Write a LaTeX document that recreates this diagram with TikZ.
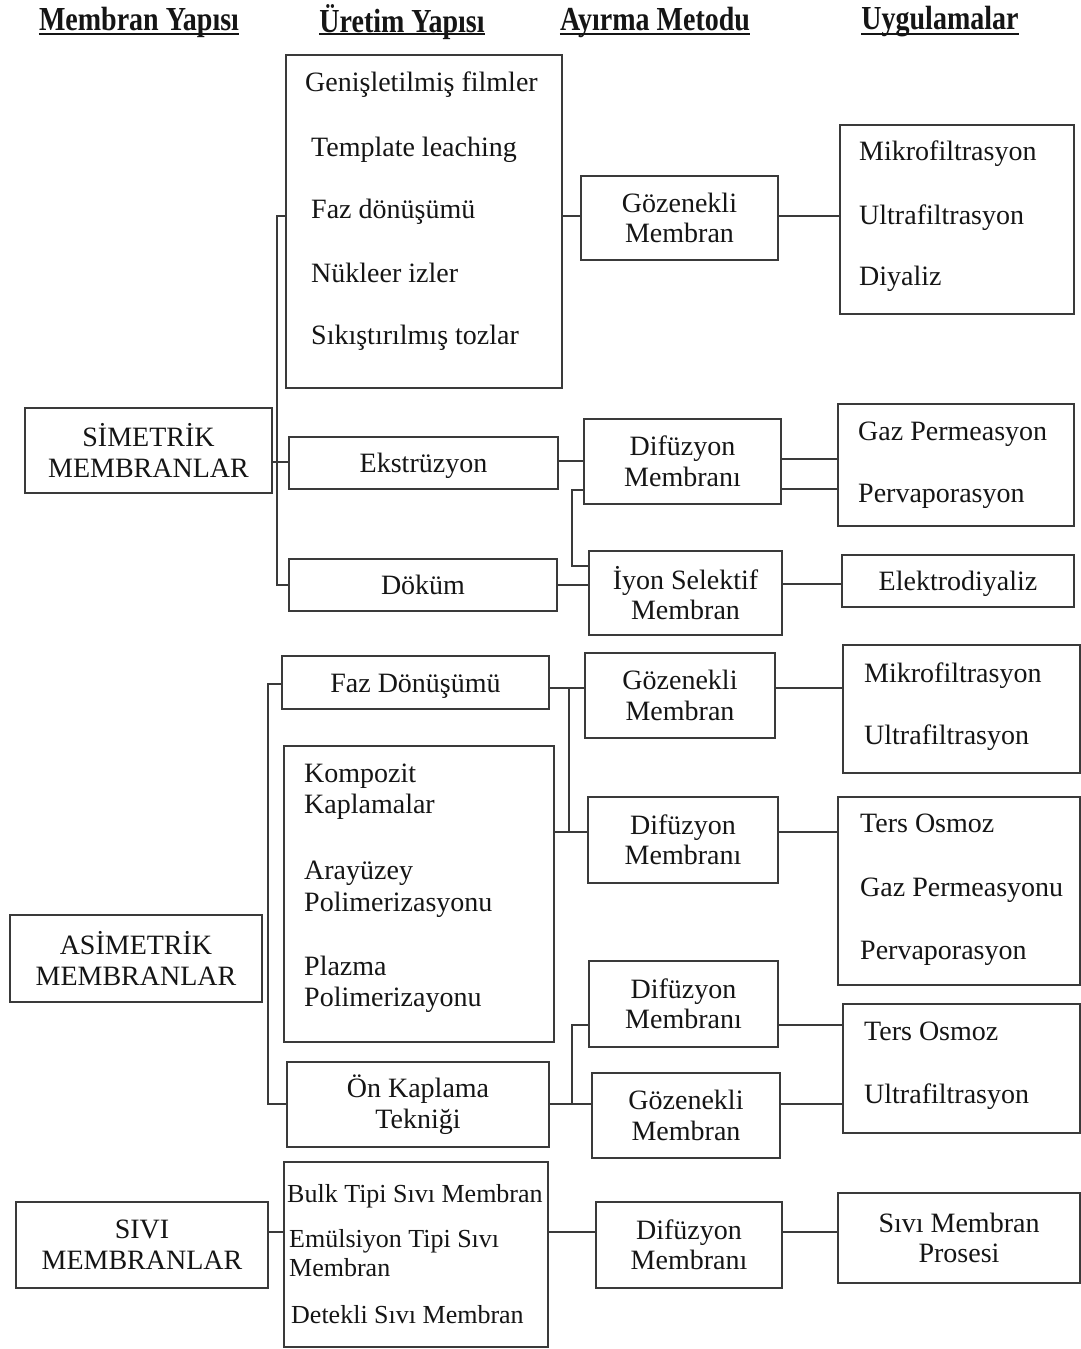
\documentclass[tikz,border=0pt]{standalone}
\usepackage{fontspec}
\setmainfont{Liberation Serif}
\newcommand\fsz{\fontsize{28}{30.5}\selectfont}
\newcommand\fsm{\fontsize{26}{28}\selectfont}
\definecolor{linec}{HTML}{3A3A3A}
\definecolor{txtc}{HTML}{151515}
\begin{document}
\begin{tikzpicture}[x=1pt,y=-1pt,
  box/.style={draw=linec, line width=1.5pt, inner sep=0pt, align=center, font=\fsz, text=txtc},
  single/.style={text height=22pt, text depth=3pt},
  ln/.style={draw=linec, line width=1.5pt},
  ul/.style={draw=txtc, line width=2.6pt},
  item/.style={font=\fsz, text=txtc, inner sep=0pt, text height=19pt, text depth=6pt, anchor=west, yshift=-3pt},
  itemsm/.style={font=\fsm, text=txtc, inner sep=0pt, text height=18pt, text depth=6pt, anchor=west, yshift=-2pt},
  head/.style={font=\fsz\bfseries, text=txtc, inner sep=0pt}]
\useasboundingbox (0,0) rectangle (1081,1349);
\fill[white] (0,0) rectangle (1081,1349);

% headings
\node[head] (h1) at (139,22) {\scalebox{1}[1.2]{Membran Yapısı}};
\node[head] (h2) at (402,22) {\scalebox{1}[1.2]{Üretim Yapısı}};
\node[head] (h3) at (655,22) {\scalebox{1}[1.2]{Ayırma Metodu}};
\node[head] (h4) at (940,22) {\scalebox{1}[1.2]{Uygulamalar}};
\foreach \h in {h1,h2,h3,h4}{\draw[ul] (\h.west |- 0,34) -- (\h.east |- 0,34);}

% ---------- SIMETRIK ----------
\node[box, minimum width=247, minimum height=85] (sim) at (148.5,450.5) {SİMETRİK\\MEMBRANLAR};
\node[box, minimum width=276, minimum height=333] (boxA) at (424,221.5) {};
\node[item] (a1) at (305,82) {Genişletilmiş filmler};
\node[item] (a2) at (311,147) {Template leaching};
\node[item] (a3) at (311,209) {Faz dönüşümü};
\node[item] (a4) at (311,273) {Nükleer izler};
\node[item] (a5) at (311,335) {Sıkıştırılmış tozlar};
\node[box, single, minimum width=269, minimum height=52] (eks) at (423.5,463) {Ekstrüzyon};
\node[box, single, minimum width=268, minimum height=52] (dok) at (423,585) {Döküm};
\node[box, minimum width=197, minimum height=84] (g1) at (679.5,218) {Gözenekli\\Membran};
\node[box, minimum width=197, minimum height=85] (d1) at (682.5,461.5) {Difüzyon\\Membranı};
\node[box, minimum width=193, minimum height=84] (iyon) at (685.5,593) {İyon Selektif\\Membran};
\node[box, minimum width=234, minimum height=189] (mik1) at (957,219.5) {};
\node[item] (m11) at (859,151) {Mikrofiltrasyon};
\node[item] (m12) at (859,215) {Ultrafiltrasyon};
\node[item] (m13) at (859,276) {Diyaliz};
\node[box, minimum width=236, minimum height=122] (gaz) at (956,465) {};
\node[item] (gz1) at (858,431) {Gaz Permeasyon};
\node[item] (gz2) at (858,493) {Pervaporasyon};
\node[box, single, minimum width=232, minimum height=52] (elek) at (958,581) {Elektrodiyaliz};

\coordinate (t1top) at (277,216);
\coordinate (t1bot) at (277,585);
\draw[ln] (boxA.west |- t1top) -- (t1top) -- (t1bot) -- (dok.west |- t1bot);
\draw[ln] (sim.east |- 0,462) -- (eks.west |- 0,462);
\draw[ln] (boxA.east |- 0,216) -- (g1.west |- 0,216);
\draw[ln] (eks.east |- 0,461) -- (d1.west |- 0,461);
\coordinate (j1a) at (572,490);
\coordinate (j1b) at (572,566);
\draw[ln] (d1.west |- j1a) -- (j1a) -- (j1b) -- (iyon.west |- j1b);
\draw[ln] (dok.east |- 0,585) -- (iyon.west |- 0,585);
\draw[ln] (g1.east |- 0,216) -- (mik1.west |- 0,216);
\draw[ln] (d1.east |- 0,459) -- (gaz.west |- 0,459);
\draw[ln] (d1.east |- 0,489) -- (gaz.west |- 0,489);
\draw[ln] (iyon.east |- 0,584) -- (elek.west |- 0,584);

% ---------- ASIMETRIK ----------
\node[box, minimum width=252, minimum height=87] (asim) at (136,958.5) {ASİMETRİK\\MEMBRANLAR};
\node[box, single, minimum width=267, minimum height=53] (faz) at (415.5,682.5) {Faz Dönüşümü};
\node[box, minimum width=270, minimum height=296] (komp) at (419,894) {};
\node[item] (k1) at (304,773) {Kompozit};
\node[item] (k2) at (304,804) {Kaplamalar};
\node[item] (k3) at (304,870) {Arayüzey};
\node[item] (k4) at (304,902) {Polimerizasyonu};
\node[item] (k5) at (304,966) {Plazma};
\node[item] (k6) at (304,997) {Polimerizayonu};
\node[box, minimum width=262, minimum height=85] (onk) at (418,1104.5) {Ön Kaplama\\Tekniği};
\node[box, minimum width=190, minimum height=85] (g2) at (680,695.5) {Gözenekli\\Membran};
\node[box, minimum width=190, minimum height=86] (d2) at (683,840) {Difüzyon\\Membranı};
\node[box, minimum width=189, minimum height=86] (d3) at (683.5,1004) {Difüzyon\\Membranı};
\node[box, minimum width=188, minimum height=85] (g3) at (686,1115.5) {Gözenekli\\Membran};
\node[box, minimum width=237, minimum height=128] (mik2) at (961.5,709) {};
\node[item] (m21) at (864,673) {Mikrofiltrasyon};
\node[item] (m22) at (864,735) {Ultrafiltrasyon};
\node[box, minimum width=242, minimum height=188] (ters1) at (959,891) {};
\node[item] (t11) at (860,823) {Ters Osmoz};
\node[item] (t12) at (860,887) {Gaz Permeasyonu};
\node[item] (t13) at (860,950) {Pervaporasyon};
\node[box, minimum width=237, minimum height=129] (ters2) at (961.5,1068.5) {};
\node[item] (t21) at (864,1031) {Ters Osmoz};
\node[item] (t22) at (864,1094) {Ultrafiltrasyon};

\coordinate (t2top) at (268,684);
\coordinate (t2bot) at (268,1104);
\draw[ln] (faz.west |- t2top) -- (t2top) -- (t2bot) -- (onk.west |- t2bot);
\draw[ln] (faz.east |- 0,688) -- (g2.west |- 0,688);
\coordinate (j2a) at (569,688);
\coordinate (j2b) at (569,832);
\draw[ln] (j2a) -- (j2b);
\draw[ln] (komp.east |- j2b) -- (d2.west |- j2b);
\draw[ln] (g2.east |- 0,688) -- (mik2.west |- 0,688);
\draw[ln] (d2.east |- 0,832) -- (ters1.west |- 0,832);
\coordinate (j3a) at (572,1104);
\coordinate (j3b) at (572,1025);
\draw[ln] (onk.east |- j3a) -- (g3.west |- j3a);
\draw[ln] (j3a) -- (j3b) -- (d3.west |- j3b);
\draw[ln] (d3.east |- 0,1025) -- (ters2.west |- 0,1025);
\draw[ln] (g3.east |- 0,1104) -- (ters2.west |- 0,1104);

% ---------- SIVI ----------
\node[box, minimum width=252, minimum height=86] (sivi) at (142,1245) {SIVI\\MEMBRANLAR};
\node[box, minimum width=264, minimum height=185] (bulk) at (416,1254.5) {};
\node[itemsm] (b1) at (287,1194) {Bulk Tipi Sıvı Membran};
\node[itemsm] (b2) at (289,1239) {Emülsiyon Tipi Sıvı};
\node[itemsm] (b3) at (289,1268) {Membran};
\node[itemsm] (b4) at (291,1315) {Detekli Sıvı Membran};
\node[box, minimum width=186, minimum height=86] (d4) at (689,1245) {Difüzyon\\Membranı};
\node[box, minimum width=242, minimum height=90] (proc) at (959,1238) {Sıvı Membran\\Prosesi};
\draw[ln] (sivi.east |- 0,1232) -- (bulk.west |- 0,1232);
\draw[ln] (bulk.east |- 0,1232) -- (d4.west |- 0,1232);
\draw[ln] (d4.east |- 0,1232) -- (proc.west |- 0,1232);
\end{tikzpicture}
\end{document}
